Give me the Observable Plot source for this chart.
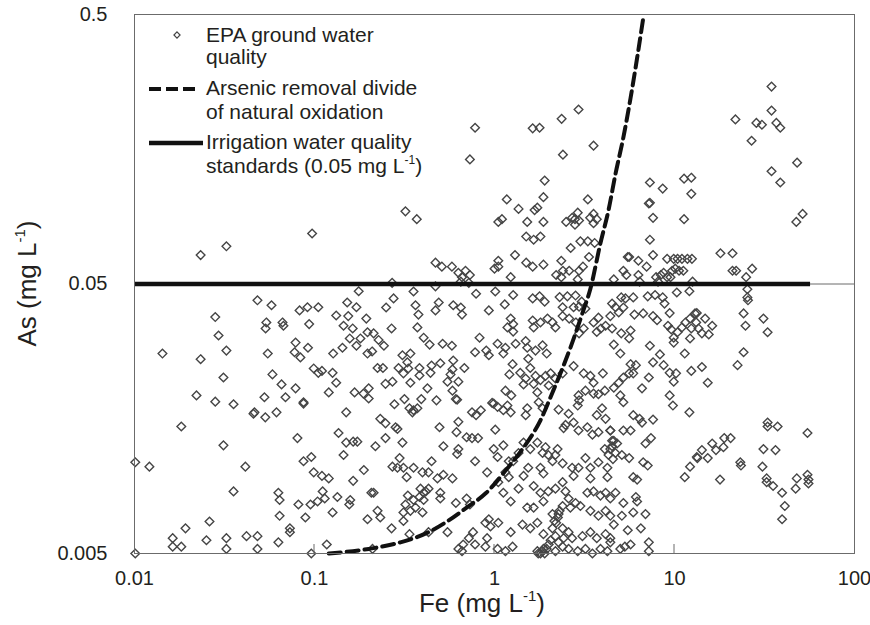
<!DOCTYPE html>
<html><head><meta charset="utf-8">
<script src="https://cdn.jsdelivr.net/npm/d3@7"></script>
<script src="https://cdn.jsdelivr.net/npm/@observablehq/plot@0.6"></script>
<style>
body{margin:0;background:#fff;}
#chart{width:870px;height:625px;}
</style></head><body><div id="chart"></div>
<script>
// ---- axis ticks ----
const xTicks = [0.01, 0.1, 1, 10, 100];
const xTickLabels = ["0.01", "0.1", "1", "10", "100"];
const yTicks = [0.005, 0.05, 0.5];
const yTickLabels = ["0.005", "0.05", "0.5"];
const innerXTicks = [0.1, 1, 10];

// ---- reference lines ----
const irrigationStandard = 0.05;          // As, mg/L
const irrigationFeRange = [0.01, 57];     // Fe extent of the drawn standard line
const divideFe = [0.12,0.2,0.3,0.43,0.55,0.7,0.9,1.2,1.43,1.8,2.1,2.39,2.64,3.08,3.41,3.88,4.3,4.7,5.2,5.7,6.2,6.75];
const divideAs = [0.005,0.0052,0.0055,0.006,0.0066,0.0074,0.0084,0.0105,0.0122,0.0156,0.0198,0.0244,0.029,0.039,0.048,0.071,0.094,0.128,0.175,0.245,0.345,0.5];

// ---- legend labels ----
const legendEPA = ["EPA ground water", "quality"];
const legendDivide = ["Arsenic removal divide", "of natural oxidation"];
const legendIrrigation = ["Irrigation water quality", "standards (0.05 mg L"];

// ---- EPA ground water samples [Fe, As] (mg/L) ----
const epaSamples = [
// above the 0.05 standard
[0.78,0.19],[0.73,0.145],[0.32,0.093],[0.37,0.087],[0.097,0.077],[0.0324,0.069],[0.0233,0.064],[0.47,0.060],[0.51,0.058],[0.58,0.058],[0.63,0.055],[0.66,0.053],[0.73,0.054],[0.69,0.056],[1.0,0.057],
[1.05,0.085],[1.1,0.087],[1.17,0.103],[1.36,0.095],[1.52,0.085],[1.67,0.094],[1.73,0.096],[1.87,0.085],[1.9,0.121],[1.87,0.105],[1.5,0.075],[1.65,0.073],[1.8,0.075],[1.63,0.189],[1.78,0.19],[2.36,0.205],[2.93,0.222],[2.4,0.151],[3.55,0.163],[3.3,0.103],[2.9,0.092],[3.55,0.091],[2.5,0.085],[2.7,0.088],[2.8,0.087],[2.95,0.086],[2.8,0.083],[3.4,0.088],[3.7,0.087],[3.55,0.084],[3.0,0.072],[3.3,0.072],[3.6,0.071],[2.65,0.068],[3.35,0.063],[1.05,0.061],[1.05,0.058],[1.3,0.064],[1.5,0.060],[1.63,0.058],[1.87,0.059],[1.23,0.053],[2.35,0.061],[2.2,0.054],[2.35,0.053],[2.4,0.056],[2.6,0.056],[2.95,0.056],[3.1,0.058],[2.9,0.052],
[7.3,0.119],[8.6,0.113],[11.3,0.123],[12.4,0.124],[12.4,0.108],[7.2,0.0995],[7.3,0.1],[7.6,0.088],[11.3,0.087],[7.3,0.073],[7.6,0.064],[5.5,0.063],[5.6,0.063],[6.3,0.061],[7.0,0.058],[5.2,0.056],[5.4,0.054],[6.3,0.054],[7.9,0.053],[8.4,0.054],[8.7,0.055],[9.1,0.062],[9.9,0.062],[10.4,0.062],[11.0,0.062],[11.8,0.062],[12.5,0.062],[9.7,0.056],[10.1,0.057],[10.6,0.056],[11.2,0.056],[9.5,0.053],[9.1,0.053],[18,0.065],[21,0.065],[21,0.056],[22,0.056],[25,0.053],[27,0.057],
[34.6,0.27],[34.6,0.22],[21.8,0.204],[28.5,0.198],[30.6,0.195],[36.8,0.198],[38.7,0.19],[26.8,0.17],[34.6,0.131],[38.7,0.119],[48,0.141],[47.5,0.085],[51.5,0.091],
[0.27,0.0505],[0.47,0.049],[0.65,0.051],[0.72,0.0505],[4.6,0.052],[6.4,0.051],[8.1,0.051],
// Fe 0.01 - 0.045
[0.0281,0.0377],[0.0293,0.0322],[0.0324,0.0283],[0.0143,0.0276],[0.0233,0.0263],[0.0312,0.0225],[0.0221,0.0193],[0.0281,0.0183],[0.0355,0.0179],[0.0458,0.0165],[0.0182,0.0148],[0.0312,0.0126],[0.0101,0.0109],[0.0121,0.0105],[0.0413,0.0105],[0.0355,0.0085],[0.0261,0.00657],[0.0192,0.0062],[0.0163,0.0057],[0.0163,0.0053],[0.0182,0.0053],[0.0251,0.0056],[0.0324,0.0057],[0.0324,0.0052],[0.0419,0.0058],[0.0101,0.005],
// Fe 0.045 - 0.21
[0.0482,0.0435],[0.0577,0.0417],[0.0826,0.0399],[0.0914,0.041],[0.105,0.041],[0.176,0.047],[0.152,0.0427],[0.171,0.041],[0.132,0.0382],[0.154,0.038],[0.194,0.0372],[0.145,0.035],[0.054,0.036],[0.0535,0.0342],[0.0664,0.036],[0.0672,0.035],[0.0934,0.0355],[0.163,0.0342],[0.197,0.0331],[0.18,0.0314],[0.157,0.0314],[0.197,0.0276],[0.171,0.0295],[0.0785,0.0303],[0.0775,0.0279],[0.0835,0.0267],[0.092,0.029],[0.055,0.0276],[0.127,0.0276],[0.143,0.029],[0.099,0.0243],[0.105,0.0234],[0.11,0.0238],[0.126,0.0234],[0.132,0.0215],[0.12,0.0198],[0.0584,0.0231],[0.0656,0.0212],[0.0785,0.0205],[0.069,0.019],[0.0527,0.019],[0.0869,0.0182],[0.0869,0.018],[0.167,0.0198],[0.187,0.0196],[0.2,0.0205],[0.2,0.0188],[0.0464,0.0167],[0.0533,0.016],[0.0615,0.0167],[0.15,0.0167],[0.0804,0.0134],[0.136,0.014],[0.15,0.0129],[0.164,0.013],[0.173,0.013],[0.145,0.0116],[0.0869,0.011],[0.096,0.0114],[0.099,0.01],[0.11,0.0097],[0.12,0.0095],[0.188,0.0102],[0.164,0.0093],[0.207,0.0084],[0.063,0.0084],[0.064,0.0079],[0.111,0.0085],[0.114,0.008],[0.0814,0.0076],[0.095,0.0076],[0.104,0.0078],[0.134,0.0081],[0.156,0.0076],[0.158,0.0079],[0.064,0.0069],[0.089,0.0068],[0.126,0.0071],[0.197,0.0067],[0.073,0.0062],[0.073,0.006],[0.0482,0.0058],[0.0482,0.0052],[0.063,0.0055],[0.117,0.0054],[0.096,0.005],
// Fe 0.21 - 1
[0.355,0.0469],[0.275,0.0442],[0.25,0.0409],[0.79,0.046],[0.93,0.0399],[0.364,0.0417],[0.378,0.0385],[0.47,0.0399],[0.49,0.0427],[0.59,0.0417],[0.65,0.0409],[0.66,0.0385],[0.268,0.0342],[0.373,0.0345],[0.404,0.0316],[0.436,0.0298],[0.515,0.030],[0.58,0.0295],[0.826,0.0316],[0.78,0.0279],[0.9,0.0283],[0.93,0.0272],[0.213,0.0328],[0.227,0.031],[0.243,0.0295],[0.209,0.0281],[0.308,0.0272],[0.341,0.0276],[0.328,0.0256],[0.332,0.0243],[0.312,0.0233],[0.293,0.0244],[0.341,0.0215],[0.383,0.0244],[0.447,0.0249],[0.5,0.0254],[0.441,0.0234],[0.383,0.0229],[0.224,0.0244],[0.24,0.0244],[0.248,0.0213],[0.271,0.0217],[0.59,0.026],[0.584,0.0241],[0.57,0.0231],[0.548,0.0217],[0.63,0.0217],[0.68,0.0244],[0.584,0.0201],[0.61,0.0187],[0.62,0.0186],[0.424,0.0205],[0.476,0.0185],[0.392,0.0187],[0.316,0.0187],[0.278,0.0179],[0.337,0.0173],[0.35,0.0167],[0.373,0.0173],[0.355,0.017],[0.232,0.0158],[0.248,0.0152],[0.282,0.0147],[0.289,0.0145],[0.495,0.0147],[0.63,0.0154],[0.615,0.0141],[0.7,0.0135],[0.75,0.0134],[0.81,0.0134],[0.75,0.0167],[0.79,0.0163],[0.84,0.017],[0.97,0.0181],[0.248,0.0134],[0.218,0.0125],[0.308,0.0129],[0.52,0.0125],[0.63,0.0122],[0.62,0.0117],[0.78,0.011],[0.91,0.010],[0.297,0.0113],[0.271,0.0105],[0.289,0.0104],[0.312,0.0104],[0.355,0.0104],[0.398,0.01],[0.447,0.011],[0.43,0.01],[0.325,0.0096],[0.482,0.0095],[0.52,0.0098],[0.584,0.0095],[0.213,0.0084],[0.388,0.0087],[0.404,0.0084],[0.415,0.0085],[0.43,0.0087],[0.383,0.0081],[0.404,0.0079],[0.5,0.0084],[0.5,0.008],[0.33,0.0082],[0.355,0.0079],[0.32,0.0076],[0.364,0.0074],[0.312,0.0071],[0.398,0.0071],[0.312,0.0066],[0.341,0.0072],[0.61,0.0077],[0.7,0.008],[0.73,0.0076],[0.224,0.0072],[0.232,0.0068],[0.268,0.0062],[0.337,0.0059],[0.43,0.006],[0.548,0.006],[0.89,0.0065],[0.93,0.0067],[0.95,0.0063],[0.76,0.006],[0.72,0.0057],[0.67,0.0054],[0.63,0.0052],[0.66,0.0051],[0.78,0.0054],[0.89,0.0053],[0.91,0.0057],[0.21,0.0052],
// Fe 1 - 4.5
[1.01,0.0469],[1.14,0.042],[1.27,0.0455],[1.63,0.0442],[1.78,0.045],[1.9,0.043],[2.3,0.0447],[2.54,0.045],[2.82,0.0453],[3.05,0.043],[2.39,0.041],[2.75,0.041],[2.95,0.0412],[3.2,0.0405],[1.23,0.0372],[1.27,0.0355],[1.18,0.0345],[1.27,0.0333],[1.63,0.0366],[1.8,0.036],[1.97,0.0372],[2.1,0.036],[2.18,0.0345],[1.65,0.0345],[2.39,0.038],[2.6,0.0372],[2.83,0.036],[3.13,0.0342],[2.95,0.0328],[3.55,0.036],[3.78,0.0375],[4.14,0.035],[3.9,0.0342],[3.7,0.0332],[4.4,0.038],[4.5,0.0342],
[1.04,0.030],[1.15,0.029],[1.12,0.0276],[1.31,0.030],[1.49,0.0307],[1.52,0.029],[1.69,0.0283],[1.85,0.0296],[1.95,0.0276],[1.54,0.0264],[1.58,0.0244],[1.26,0.0252],[1.21,0.0231],[1.39,0.0234],[1.49,0.0223],[1.45,0.0212],[1.15,0.0201],[1.24,0.0193],[1.69,0.0228],[1.8,0.022],[1.92,0.0228],[2.05,0.0233],[2.18,0.0223],[2.0,0.021],[1.73,0.0198],[1.65,0.0213],[2.39,0.0233],[2.75,0.0248],[3.13,0.0233],[3.41,0.0228],[3.55,0.0215],[4.0,0.0233],[4.1,0.0201],[3.2,0.0201],[2.93,0.0193],[2.95,0.0185],[2.9,0.0177],[3.55,0.0196],[3.78,0.0195],
[0.99,0.018],[1.04,0.0175],[1.12,0.017],[1.23,0.0167],[1.18,0.0177],[1.52,0.0173],[1.49,0.0163],[1.76,0.0182],[1.85,0.0173],[2.27,0.0171],[2.58,0.0165],[2.48,0.015],[2.42,0.0146],[2.75,0.0153],[2.93,0.0143],[3.28,0.0147],[3.5,0.0138],[3.78,0.0141],[3.7,0.0163],[3.96,0.0173],[4.14,0.0158],[4.4,0.0143],[4.5,0.0131],[4.3,0.0116],[4.1,0.0122],
[1.01,0.0144],[0.99,0.0122],[1.12,0.0126],[1.04,0.0114],[1.2,0.011],[1.27,0.011],[1.36,0.0118],[1.45,0.0129],[1.58,0.0122],[1.73,0.0129],[1.85,0.0118],[1.99,0.0116],[1.92,0.0124],[2.24,0.0122],[2.1,0.011],[2.18,0.0116],[1.54,0.0104],[1.45,0.0097],[1.8,0.0104],[1.87,0.0099],[2.39,0.0108],[2.7,0.0104],[2.93,0.0104],[3.2,0.0113],[3.41,0.0104],[3.78,0.0109],[4.24,0.0104],[4.24,0.0096],[3.41,0.0095],[2.75,0.0097],
[1.15,0.01],[1.2,0.0096],[1.36,0.0087],[1.12,0.0084],[1.23,0.0078],[1.05,0.0092],[1.65,0.0089],[1.8,0.0084],[1.99,0.0085],[2.18,0.0087],[2.39,0.0092],[1.87,0.0078],[1.65,0.0074],[1.52,0.0074],[2.48,0.0085],[2.58,0.008],[2.39,0.0075],[2.27,0.007],[2.64,0.0074],[2.82,0.0077],[3.0,0.0075],[3.28,0.0084],[3.55,0.0085],[3.88,0.0082],[4.14,0.0084],[4.4,0.008],[3.41,0.0072],[3.78,0.0069],[4.14,0.0072],[4.4,0.0069],
[1.05,0.0065],[1.23,0.006],[1.43,0.0064],[1.58,0.0062],[1.73,0.0065],[1.87,0.0059],[2.1,0.0062],[2.18,0.0058],[2.39,0.0062],[2.58,0.006],[2.42,0.0057],[2.27,0.0055],[2.7,0.0057],[3.08,0.0058],[3.41,0.006],[3.7,0.0057],[4.14,0.0059],[4.4,0.0055],
[1.04,0.0052],[1.15,0.0051],[1.26,0.0053],[1.73,0.0051],[1.8,0.005],[1.87,0.0052],[2.18,0.0051],[2.39,0.0053],[2.58,0.0052],[2.9,0.0051],[3.2,0.0052],[3.5,0.005],[3.88,0.0052],[4.24,0.0051],
[1.75,0.005],[1.85,0.0051],[1.9,0.005],[1.95,0.0052],[2.0,0.0054],[2.05,0.0056],[2.2,0.0065],[2.25,0.0068],[2.3,0.0072],[2.15,0.0066],[2.1,0.007],
// Fe 4.4 - 20
[12.6,0.051],[12.1,0.047],[10.3,0.0465],[5.06,0.0446],[5.34,0.0442],[5.9,0.0446],[7.1,0.045],[7.8,0.0455],[8.6,0.0446],[8.8,0.0423],[9.4,0.039],[4.5,0.0423],[4.7,0.041],[4.9,0.0392],[5.2,0.0409],[5.99,0.0385],[6.7,0.0389],[7.6,0.038],[8.0,0.0367],[9.2,0.035],[9.6,0.0339],[9.9,0.0316],[9.9,0.0303],[10.4,0.0331],[11.0,0.0345],[11.5,0.036],[12.2,0.0372],[13.0,0.0389],[13.3,0.039],[13.2,0.036],[12.4,0.0342],[13.6,0.0342],[14.2,0.0328],[15.5,0.0325],[16.2,0.035],[14.8,0.0372],[12.2,0.0314],
[5.06,0.0328],[5.7,0.0336],[5.6,0.0314],[4.6,0.0298],[5.0,0.0276],[7.3,0.0295],[8.3,0.0274],[7.6,0.0256],[8.7,0.025],[9.4,0.0234],[10.2,0.0233],[9.9,0.0217],[11.4,0.0276],[12.4,0.0238],[14.2,0.0246],[15.3,0.0215],[5.7,0.0252],[6.1,0.025],[5.9,0.0233],[5.6,0.0233],[5.2,0.0225],[4.9,0.0215],[4.6,0.0206],[7.2,0.0225],[6.6,0.0205],[5.0,0.0193],[5.2,0.0182],[9.4,0.0193],[9.8,0.0177],[12.1,0.0167],
[5.9,0.0163],[6.6,0.0153],[7.6,0.0157],[6.4,0.0158],[4.4,0.0143],[4.6,0.0131],[4.4,0.0122],[5.1,0.0116],[5.2,0.0143],[5.7,0.0143],[7.4,0.0134],[6.9,0.0128],[5.6,0.0113],[6.7,0.0109],[7.1,0.0106],[4.5,0.0125],[4.7,0.0118],[4.8,0.0128],[4.55,0.0112],
[5.9,0.0096],[6.2,0.0094],[4.7,0.0084],[5.2,0.0077],[6.1,0.0081],[6.2,0.0078],[5.9,0.0071],[6.9,0.007],[5.1,0.0069],[5.5,0.0061],[6.5,0.0062],[4.6,0.0064],[4.4,0.0057],[5.0,0.0052],[5.3,0.0053],[5.7,0.0054],[7.2,0.0055],[7.2,0.0051],
[11.4,0.0096],[12.2,0.0105],[13.4,0.0113],[13.3,0.0114],[14.2,0.0121],[15.3,0.0113],[16.2,0.0128],[17.0,0.0121],[18.7,0.0124],[18.9,0.0134],[17.9,0.0094],
// Fe > 20
[25.4,0.0478],[25.4,0.0446],[25.6,0.0435],[24.2,0.0389],[24.8,0.035],[31.2,0.0372],[32.9,0.0331],[24.2,0.0279],[22.4,0.025],[32.9,0.0153],[32.9,0.0148],[37.4,0.0148],[54.8,0.014],[20.5,0.0134],[31.2,0.0122],[36.4,0.0121],[23.2,0.0109],[23.4,0.0106],[30.8,0.0105],[32.5,0.0095],[32.5,0.0092],[35.3,0.0089],[39.6,0.0084],[41.0,0.0075],[39.6,0.0067],[47.8,0.0095],[47.1,0.0087],[54.8,0.0098],[55.5,0.0094],[55.5,0.0091]
];

const samples = epaSamples.map(([fe, as]) => ({fe, as}));
const divide = divideFe.map((fe, i) => ({fe, as: divideAs[i]}));

const ink = "#231f20";
const frameGray = "#6b6b6b";
const pointGray = "#454545";
const font = "'Liberation Sans', Arial, Helvetica, sans-serif";

const plot = Plot.plot({
  width: 870, height: 625,
  marginLeft: 134, marginRight: 16, marginTop: 14, marginBottom: 72,
  style: {fontFamily: font, fontSize: "20px", color: ink, background: "#fff", overflow: "visible"},
  x: {type: "log", domain: [xTicks[0], xTicks[xTicks.length - 1]]},
  y: {type: "log", domain: [yTicks[0], yTicks[yTicks.length - 1]]},
  marks: [
    Plot.ruleY(yTicks, {stroke: frameGray, strokeWidth: 1}),
    Plot.dot(samples, {x: "fe", y: "as", symbol: "diamond2", r: 3.9, stroke: pointGray, strokeWidth: 1.4, fill: "none"}),
    Plot.ruleY([irrigationStandard], {x1: irrigationFeRange[0], x2: irrigationFeRange[1], stroke: "#111", strokeWidth: 4.5}),
    Plot.line(divide, {x: "fe", y: "as", stroke: "#111", strokeWidth: 4, strokeDasharray: "12,6", curve: "monotone-x"}),
    Plot.frame({stroke: frameGray, strokeWidth: 1}),
    Plot.axisX({ticks: xTicks, tickSize: 0, tickPadding: 17, tickFormat: d => xTickLabels[xTicks.indexOf(d)], label: null, fill: ink}),
    Plot.axisY({ticks: yTicks, tickSize: 0, tickPadding: 27, tickFormat: d => yTickLabels[yTicks.indexOf(d)], label: null, fill: ink})
  ]
});

document.getElementById("chart").appendChild(plot);

// ---- extras drawn with the plot's own scales ----
const sx = plot.scale("x"), sy = plot.scale("y");
const svg = d3.select(plot);
const yBottom = sy.apply(yTicks[0]);

// inward x ticks
svg.append("g").selectAll("line").data(innerXTicks).join("line")
  .attr("x1", d => sx.apply(d)).attr("x2", d => sx.apply(d))
  .attr("y1", yBottom).attr("y2", yBottom - 9)
  .attr("stroke", frameGray).attr("stroke-width", 1);

// axis titles
const xMid = (sx.apply(xTicks[0]) + sx.apply(xTicks[xTicks.length - 1])) / 2;
const yMid = (sy.apply(yTicks[0]) + sy.apply(yTicks[yTicks.length - 1])) / 2;
function unitTitle(sel, main) {
  sel.append("tspan").text(main + " (mg L");
  sel.append("tspan").attr("font-size", 15).attr("dy", -11).text("-1");
  sel.append("tspan").attr("dy", 11).text(")");
}
const xt = svg.append("text").attr("x", xMid - 12).attr("y", 612)
  .attr("text-anchor", "middle").attr("font-size", 26).attr("font-family", font).attr("fill", ink);
unitTitle(xt, "Fe");
const yt = svg.append("text").attr("transform", `translate(36,${yMid}) rotate(-90)`)
  .attr("text-anchor", "middle").attr("font-size", 26).attr("font-family", font).attr("fill", ink);
unitTitle(yt, "As");

// legend
const lg = svg.append("g").attr("font-size", 21).attr("font-family", font).attr("fill", ink).attr("text-anchor", "start");
const textX = 206;
lg.append("path").attr("transform", "translate(177,35)")
  .attr("d", d3.symbol(d3.symbolDiamond2, 24)()).attr("fill", "none").attr("stroke", pointGray).attr("stroke-width", 1.2);
lg.append("text").attr("x", textX).attr("y", 42).text(legendEPA[0]);
lg.append("text").attr("x", textX).attr("y", 64).text(legendEPA[1]);
lg.append("line").attr("x1", 149).attr("x2", 198).attr("y1", 89).attr("y2", 89)
  .attr("stroke", "#111").attr("stroke-width", 4).attr("stroke-dasharray", "12,5");
lg.append("text").attr("x", textX).attr("y", 95).text(legendDivide[0]);
lg.append("text").attr("x", textX).attr("y", 119).text(legendDivide[1]);
lg.append("line").attr("x1", 149).attr("x2", 203).attr("y1", 143).attr("y2", 143)
  .attr("stroke", "#111").attr("stroke-width", 4.5);
lg.append("text").attr("x", textX).attr("y", 149).text(legendIrrigation[0]);
const l2 = lg.append("text").attr("x", textX).attr("y", 173);
l2.append("tspan").text(legendIrrigation[1]);
l2.append("tspan").attr("font-size", 12).attr("dy", -9).text("-1");
l2.append("tspan").attr("dy", 9).text(")");
</script>
</body></html>
